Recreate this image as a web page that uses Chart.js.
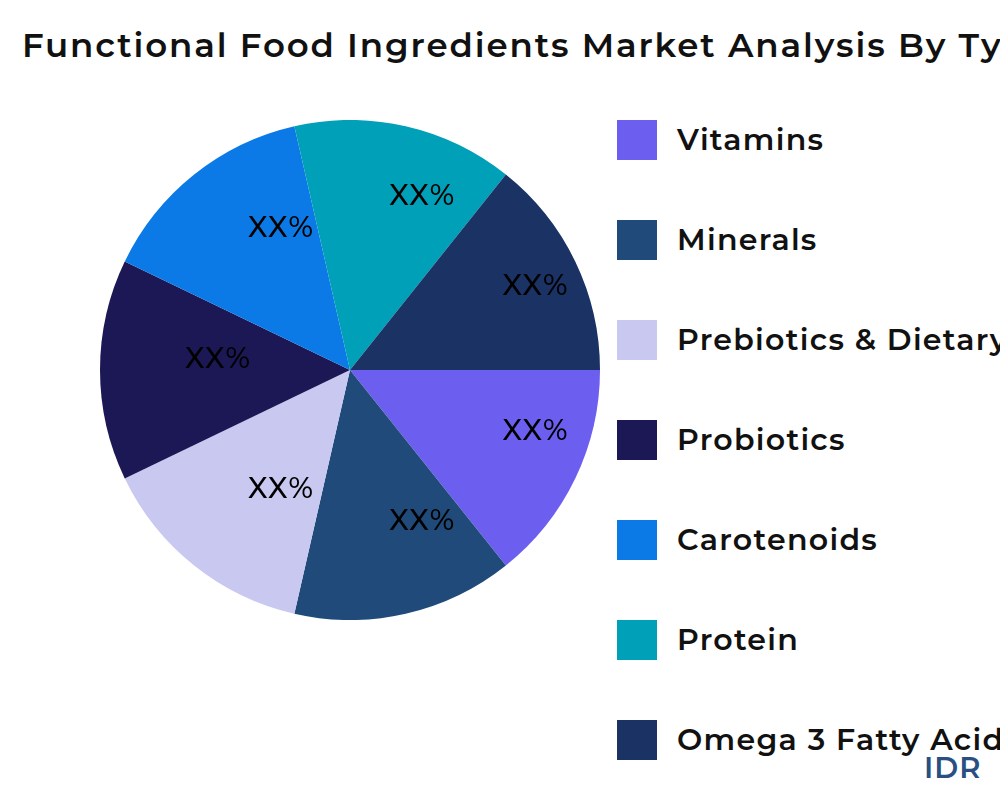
<!DOCTYPE html>
<html><head><meta charset="utf-8">
<script src="https://cdn.jsdelivr.net/npm/chart.js@4"></script>
<style>
html,body{margin:0;width:1000px;height:800px;overflow:hidden;background:#fff;font-family:Montserrat,"Open Sans",sans-serif}
#title{position:absolute;left:22px;top:24px;white-space:nowrap;font-size:34px;font-weight:600;color:#111;letter-spacing:1.9px}
#cw{position:absolute;left:100px;top:120px;width:500px;height:500px}
.lg{position:absolute;left:617px;white-space:nowrap;font-size:30px;font-weight:600;color:#111;letter-spacing:1.3px}
.lg span{position:absolute;left:0;top:0;width:40px;height:40px}
.lg b{position:absolute;left:60px;top:0;line-height:40px;font-weight:600}
#idr{position:absolute;left:924px;top:750px;font-size:29px;font-weight:600;color:#2a5082;letter-spacing:1px}
</style></head><body>
<div id="title">Functional Food Ingredients Market Analysis By Type</div>
<div id="cw"><canvas id="c" width="500" height="500"></canvas></div>
<div id="legend"></div>
<div id="idr">IDR</div>
<script>
const categories=["Vitamins","Minerals","Prebiotics & Dietary Fibers","Probiotics","Carotenoids","Protein","Omega 3 Fatty Acids"];
const values=[1,1,1,1,1,1,1];
const labels=["XX%","XX%","XX%","XX%","XX%","XX%","XX%"];
const colors=["#6c5ff0","#1f4a7a","#c8c8f0","#1c1855","#0c7ae6","#00a0b8","#1b3264"];
const lg=document.getElementById('legend');
categories.forEach((c,i)=>{const d=document.createElement('div');d.className='lg';d.style.top=(120+i*100)+'px';
d.innerHTML='<span style="background:'+colors[i]+'"></span><b>'+c+'</b>';lg.appendChild(d);});
const lblPlugin={id:'lbl',afterDatasetsDraw(ch){const ctx=ch.ctx;const meta=ch.getDatasetMeta(0);
ctx.save();ctx.font='500 29px Montserrat,"Open Sans",sans-serif';ctx.letterSpacing='1px';ctx.fillStyle='#000';ctx.textAlign='center';ctx.textBaseline='middle';
meta.data.forEach((a,i)=>{const m=(a.startAngle+a.endAngle)/2;const r=a.outerRadius*0.668;
ctx.fillText(labels[i],a.x+35+Math.cos(m)*r,a.y-11+Math.sin(m)*r);});ctx.restore();}};
new Chart(document.getElementById('c'),{type:'pie',
data:{labels:categories,datasets:[{data:values,backgroundColor:colors,borderWidth:0}]},
options:{responsive:false,animation:false,rotation:90,layout:{padding:0},
plugins:{legend:{display:false},tooltip:{enabled:false},title:{display:false}}},
plugins:[lblPlugin]});
</script></body></html>
